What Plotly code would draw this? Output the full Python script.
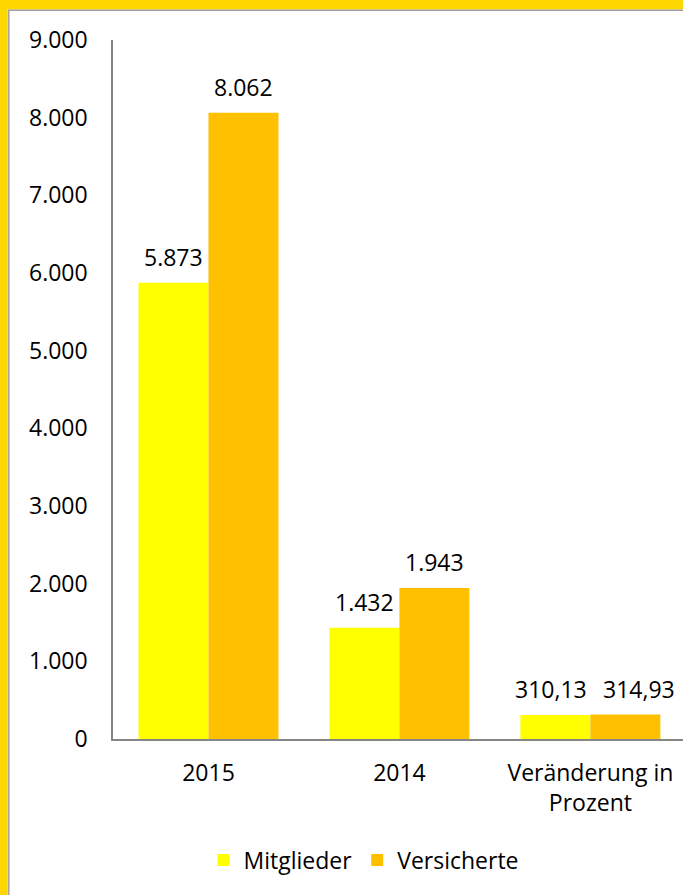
import plotly.graph_objects as go

categories = ["2015", "2014", "Veränderung in<br>Prozent"]
mitglieder = [5873, 1432, 310.13]
versicherte = [8062, 1943, 314.93]
series_names = ["Mitglieder", "Versicherte"]
tick_vals = [0, 1000, 2000, 3000, 4000, 5000, 6000, 7000, 8000, 9000]
tick_text = ["0", "1.000", "2.000", "3.000", "4.000", "5.000", "6.000", "7.000", "8.000", "9.000"]

W, H = 683, 895
L, R, T, B = 113, 0, 40, 156
FONT = "Open Sans"
FS = 23
COL_M = "#FFFF00"
COL_V = "#FFC000"


def fmt(v):
    if float(v).is_integer():
        return f"{int(v):,}".replace(",", ".")
    return f"{v:.2f}".replace(".", ",")


fig = go.Figure()
fig.add_trace(go.Bar(x=categories, y=mitglieder, name=series_names[0],
                     marker=dict(color=COL_M, line=dict(width=0))))
fig.add_trace(go.Bar(x=categories, y=versicherte, name=series_names[1],
                     marker=dict(color=COL_V, line=dict(width=0))))

# data labels
pw = W - L - R
xr = [-0.5, 2.485]
cat_px = pw / (xr[1] - xr[0])
bargap = 0.267
bar_px = cat_px * (1 - bargap) / 2
# extra horizontal nudge of labels (last label pushed right as in the reference)
label_nudge = [[0, 0, -4], [0, 0, 14]]
annotations = []
for si, (vals, sgn) in enumerate(((mitglieder, -1), (versicherte, 1))):
    for ci, v in enumerate(vals):
        annotations.append(dict(x=ci, y=v, xref="x", yref="y", text=fmt(v),
                                showarrow=False,
                                xshift=sgn * bar_px / 2 + label_nudge[si][ci],
                                yanchor="middle", yshift=26,
                                font=dict(family=FONT, size=FS, color="#000")))

ph = H - T - B


def px_x(p):
    return (p - L) / pw


def px_y(q):
    return (H - B - q) / ph


shapes = [
    dict(type="rect", xref="paper", yref="paper", x0=px_x(0), x1=px_x(W + 5),
         y0=px_y(0), y1=px_y(9.5), fillcolor="#FFD700", line=dict(width=0), layer="above"),
    dict(type="rect", xref="paper", yref="paper", x0=px_x(0), x1=px_x(7.8),
         y0=px_y(0), y1=px_y(H + 5), fillcolor="#FFD700", line=dict(width=0), layer="above"),
    dict(type="line", xref="paper", yref="paper", x0=px_x(8.8), x1=px_x(8.8),
         y0=px_y(10), y1=px_y(H + 5), line=dict(color="#A0A0A0", width=1.5), layer="above"),
    dict(type="line", xref="paper", yref="paper", x0=px_x(8), x1=px_x(W + 5),
         y0=px_y(10.3), y1=px_y(10.3), line=dict(color="#A0A0A0", width=1.5), layer="above"),
]

fig.update_layout(
    width=W, height=H,
    margin=dict(l=L, r=R, t=T, b=B, pad=0),
    paper_bgcolor="white", plot_bgcolor="white",
    barmode="group", bargap=bargap, bargroupgap=0,
    font=dict(family=FONT, size=FS, color="#000"),
    separators=",.",
    showlegend=True,
    legend=dict(orientation="h", x=px_x(364), xanchor="center", y=px_y(860), yanchor="middle",
                font=dict(family=FONT, size=FS, color="#000"), itemsizing="constant",
                bgcolor="rgba(0,0,0,0)", traceorder="normal"),
    annotations=annotations,
    shapes=shapes,
)
fig.update_xaxes(type="category", range=xr, showline=True, linecolor="#868686", linewidth=1.5,
                 ticks="", showgrid=False, zeroline=False, ticklabelstandoff=13,
                 tickfont=dict(family=FONT, size=FS, color="#000"))
fig.update_yaxes(range=[0, 9000], tickvals=tick_vals, ticktext=tick_text,
                 showline=True, linecolor="#868686", linewidth=1.5,
                 ticks="", showgrid=False, zeroline=False, ticklabelstandoff=19,
                 tickfont=dict(family=FONT, size=FS, color="#000"))

fig.write_html("out.html", config={"displayModeBar": False},
               post_script="document.body.style.margin='0';document.body.style.overflow='hidden';")
